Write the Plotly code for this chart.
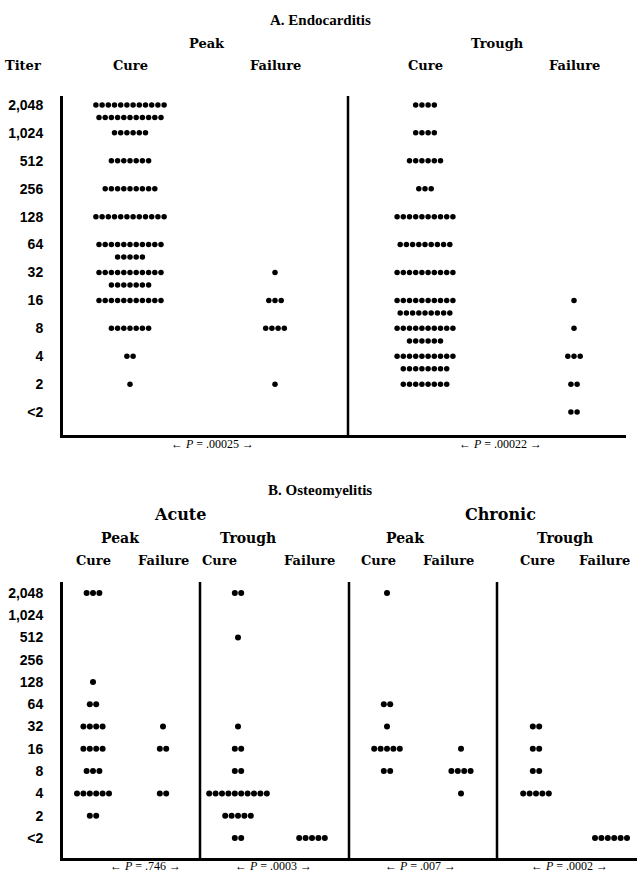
import plotly.graph_objects as go

W, H = 639, 875

titer_labels = ["<2", "2", "4", "8", "16", "32", "64", "128", "256", "512", "1,024", "2,048"]

# ---- A. Endocarditis: dots per printed row (main row, then overflow row beneath)
endo_peak_cure = {"2,048": [12, 11], "1,024": [6], "512": [7], "256": [9], "128": [12],
                  "64": [11, 5], "32": [11, 7], "16": [11], "8": [7], "4": [2], "2": [1]}
endo_peak_fail = {"32": [1], "16": [3], "8": [4], "2": [1]}
endo_trough_cure = {"2,048": [4], "1,024": [4], "512": [6], "256": [3], "128": [10],
                    "64": [9], "32": [10], "16": [10, 9], "8": [10, 6], "4": [10, 8], "2": [8]}
endo_trough_fail = {"16": [1], "8": [1], "4": [3], "2": [2], "<2": [2]}
endo_p = ["← <i>P</i> = .00025 →", "← <i>P</i> = .00022 →"]

# ---- B. Osteomyelitis: number of dots per titer
acute_peak_cure = {"2,048": 3, "128": 1, "64": 2, "32": 4, "16": 4, "8": 3, "4": 6, "2": 2}
acute_peak_fail = {"32": 1, "16": 2, "4": 2}
acute_trough_cure = {"2,048": 2, "512": 1, "32": 1, "16": 2, "8": 2, "4": 10, "2": 5, "<2": 2}
acute_trough_fail = {"<2": 5}
chronic_peak_cure = {"2,048": 1, "64": 2, "32": 1, "16": 5, "8": 2}
chronic_peak_fail = {"16": 1, "8": 4, "4": 1}
chronic_trough_cure = {"32": 2, "16": 2, "8": 2, "4": 5}
chronic_trough_fail = {"<2": 6}
osteo_p = ["← <i>P</i> = .746 →", "← <i>P</i> = .0003 →", "← <i>P</i> = .007 →", "← <i>P</i> = .0002 →"]


def dot_xy(counts, center, spacing, sub_offset=0.45):
    xs, ys = [], []
    for lab, rows in counts.items():
        if isinstance(rows, int):
            rows = [rows]
        lvl = titer_labels.index(lab)
        for r, n in enumerate(rows):
            for i in range(n):
                xs.append(center + (i - (n - 1) / 2) * spacing)
                ys.append(lvl - r * sub_offset)
    return xs, ys


fig = go.Figure()

AX = 63  # left axis position (px)

A_groups = [(endo_peak_cure, 130), (endo_peak_fail, 275), (endo_trough_cure, 425), (endo_trough_fail, 574)]
for counts, cx in A_groups:
    xs, ys = dot_xy(counts, cx, 6.2)
    fig.add_trace(go.Scatter(x=xs, y=ys, mode="markers", xaxis="x", yaxis="y",
                             marker=dict(size=5.5, color="black"), showlegend=False, hoverinfo="skip"))

B_groups = [(acute_peak_cure, 93), (acute_peak_fail, 163), (acute_trough_cure, 238), (acute_trough_fail, 312),
            (chronic_peak_cure, 387), (chronic_peak_fail, 461), (chronic_trough_cure, 536), (chronic_trough_fail, 611)]
for counts, cx in B_groups:
    xs, ys = dot_xy(counts, cx, 6.4)
    fig.add_trace(go.Scatter(x=xs, y=ys, mode="markers", xaxis="x2", yaxis="y2",
                             marker=dict(size=6, color="black"), showlegend=False, hoverinfo="skip"))

tick_font = dict(family="Liberation Sans", size=14, color="black", weight="bold")
common_x = dict(showgrid=False, zeroline=False, showticklabels=False, ticks="",
                showline=True, linecolor="black", linewidth=3, fixedrange=True)
common_y = dict(showgrid=False, zeroline=False, showline=True, linecolor="black", linewidth=3,
                tickmode="array", tickvals=list(range(len(titer_labels))), ticktext=titer_labels,
                ticks="", ticklabelstandoff=14, tickfont=tick_font, fixedrange=True)

fig.update_layout(
    width=W, height=H, margin=dict(l=0, r=0, t=0, b=0),
    paper_bgcolor="white", plot_bgcolor="white",
    xaxis=dict(domain=[AX / W, 626 / W], range=[AX, 626], anchor="y", **common_x),
    yaxis=dict(domain=[1 - 435 / H, 1 - 96 / H], range=[-0.82, 11.32], anchor="x", **common_y),
    xaxis2=dict(domain=[AX / W, 637 / W], range=[AX, 637], anchor="y2", **common_x),
    yaxis2=dict(domain=[1 - 858 / H, 1 - 582 / H], range=[-0.9, 11.49], anchor="x2", **common_y),
)

# dividers
shapes = [dict(type="line", xref="x", yref="y domain", x0=348, x1=348, y0=0, y1=1,
               line=dict(color="black", width=2.5))]
for xd in [200, 349, 497]:
    shapes.append(dict(type="line", xref="x2", yref="y2 domain", x0=xd, x1=xd, y0=0, y1=1,
                       line=dict(color="black", width=2.5)))
fig.update_layout(shapes=shapes)

serif_b = "DejaVu Serif"
title_f = "Liberation Serif"


def txt(s, px, py, family, size, bold=True):
    fig.add_annotation(text=s, x=px / W, y=1 - py / H, xref="paper", yref="paper",
                       xanchor="center", yanchor="middle", showarrow=False,
                       font=dict(family=family, size=size, color="black",
                                 weight="bold" if bold else "normal"))


# Panel A headers
txt("A. Endocarditis", 320, 20, title_f, 15)
txt("Peak", 207, 43, serif_b, 13)
txt("Trough", 497, 43, serif_b, 13)
txt("Titer", 23, 66, serif_b, 13)
for s, px in [("Cure", 130), ("Failure", 275), ("Cure", 425), ("Failure", 574)]:
    txt(s, px, 66, serif_b, 13)
for s, px in zip(endo_p, [212, 500]):
    txt(s, px, 444, title_f, 12, bold=False)

# Panel B headers
txt("B. Osteomyelitis", 320, 490, title_f, 15)
txt("Acute", 180, 514, serif_b, 16)
txt("Chronic", 500, 514, serif_b, 16)
for s, px in [("Peak", 120), ("Trough", 248), ("Peak", 405), ("Trough", 565)]:
    txt(s, px, 538, serif_b, 14)
for s, px in zip(["Cure", "Failure"] * 4, [93, 163, 220, 309, 378, 448, 537, 604]):
    txt(s, px, 560, serif_b, 13)
for s, px in zip(osteo_p, [145, 273, 420, 569]):
    txt(s, px, 866, title_f, 12, bold=False)

fig.write_html("out.html")
